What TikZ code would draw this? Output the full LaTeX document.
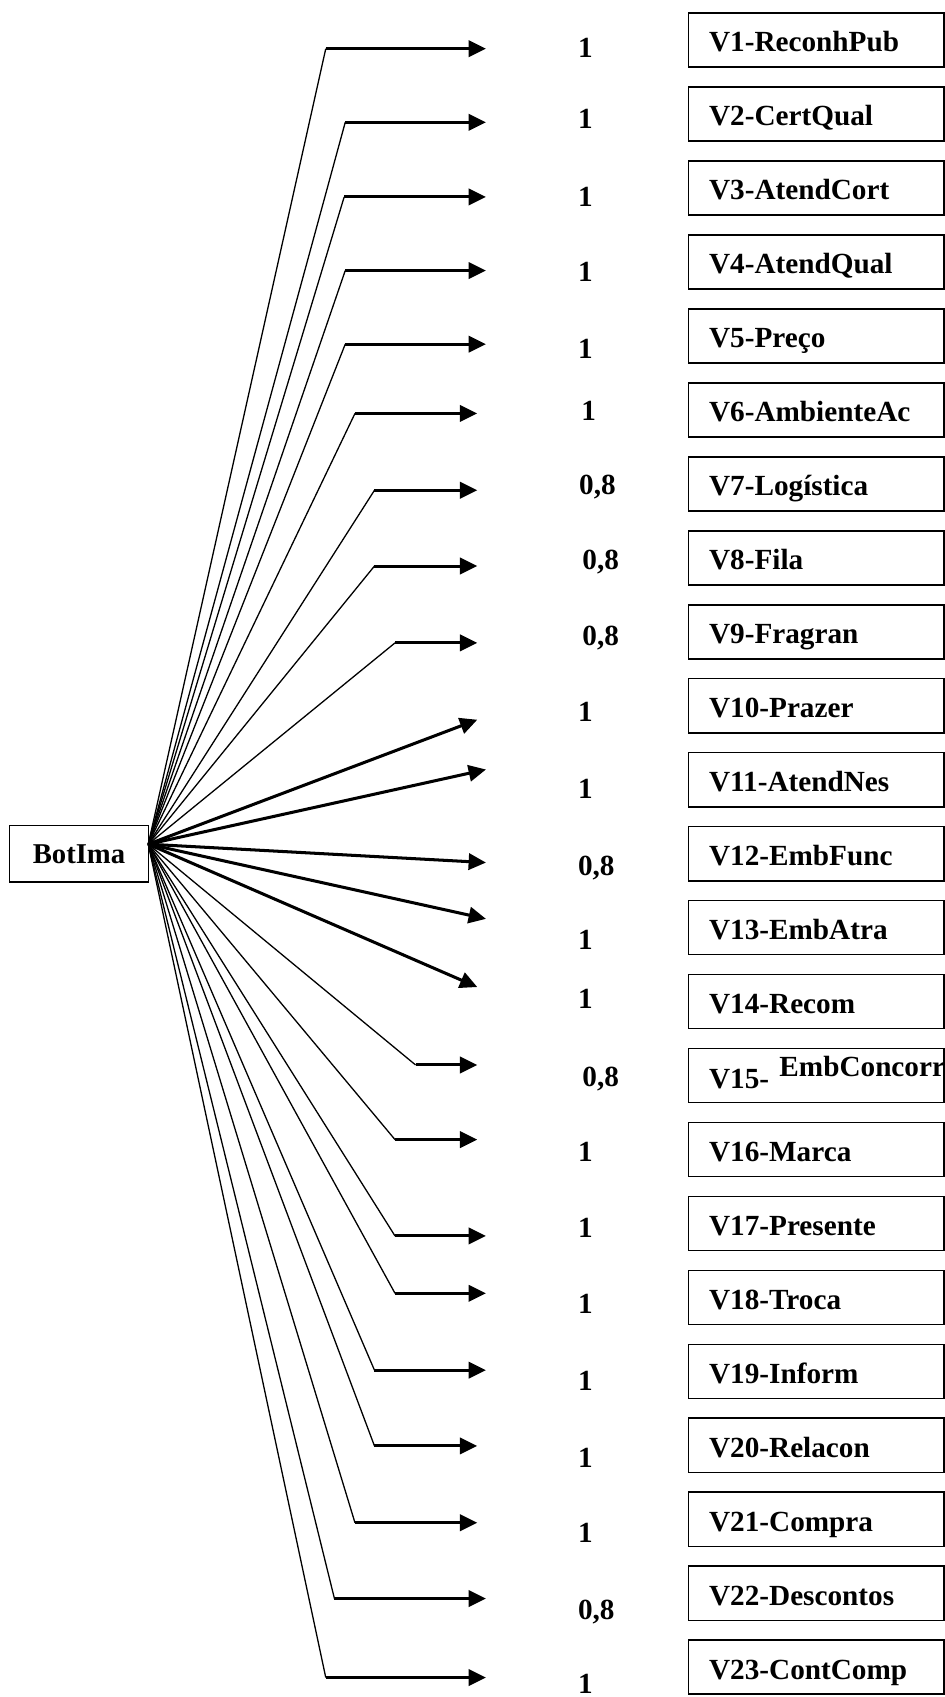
\documentclass[tikz,border=0pt]{standalone}
\usepackage{fontspec}
\setmainfont{Liberation Serif}
\usetikzlibrary{arrows.meta}
\begin{document}
\begin{tikzpicture}[x=1pt,y=-1pt,
  lab/.style={font=\fontsize{27}{30}\selectfont\bfseries, inner sep=0pt},
  varbox/.style={draw, line width=1.5pt, minimum width=236pt, minimum height=50pt, inner sep=0pt},
  rootbox/.style={draw, line width=1.3pt, minimum width=128pt, minimum height=52pt, inner sep=0pt,
    font=\fontsize{26.5}{30}\selectfont\bfseries},
  spoke/.style={line width=1.2pt},
  feed/.style={line width=2.8pt, -{Triangle[length=16pt,width=15pt]}}]

\useasboundingbox (0,0) rectangle (873,1568);

% root construct and the common origin of all paths
\node[rootbox] (root) at (73,789) {BotIma};
\coordinate (hub) at (137,780);

% observed variables
\foreach \i/\t in {1/V1-ReconhPub, 2/V2-CertQual, 3/V3-AtendCort, 4/V4-AtendQual,
  5/V5-Preço, 6/V6-AmbienteAc, 7/V7-Logística, 8/V8-Fila, 9/V9-Fragran,
  10/V10-Prazer, 11/V11-AtendNes, 12/V12-EmbFunc, 13/V13-EmbAtra, 14/V14-Recom,
  16/V16-Marca, 17/V17-Presente, 18/V18-Troca, 19/V19-Inform, 20/V20-Relacon,
  21/V21-Compra, 22/V22-Descontos, 23/V23-ContComp}{
  \pgfmathsetmacro{\cy}{37+68.34*(\i-1)}
  \node[varbox] (v\i) at (754,\cy) {};
  \node[lab, anchor=base west] (n\i) at (655,\cy+11) {\t};
}
\pgfmathsetmacro{\cy}{37+68.34*14}
\node[varbox] (v15) at (754,\cy) {};
\node[lab, anchor=base west] (n15) at (655,\cy+12) {V15-};
\node[lab, anchor=base west] (n15b) at (720,\cy+1) {EmbConcorr};

% loadings
\foreach \i/\x/\y/\t in {1/541/44/1, 2/541/109/1, 3/541/181/1, 4/541/251/1,
  5/541/322/1, 6/544/379/1, 7/552/447/0{,}8, 8/555/517/0{,}8, 9/555/587/0{,}8,
  10/541/657/1, 11/541/728/1, 12/551/799/0{,}8, 13/541/868/1, 14/541/922/1,
  15/555/994/0{,}8, 16/541/1064/1, 17/541/1134/1, 18/541/1204/1, 19/541/1275/1,
  20/541/1346/1, 21/541/1416/1, 22/551/1487/0{,}8, 23/541/1555/1}{
  \node[lab, anchor=base] (w\i) at (\x,\y+9.5) {\t};
}

% bent paths: spoke to a corner, then a horizontal arrow
\foreach \i/\cx/\cy/\tx in {1/301/45/449, 2/319/113/449, 3/318/182/449,
  4/319/250/449, 5/319/318/449, 6/328/382/441, 7/346/453/441, 8/346/523/441,
  9/365/594/441, 15/384/984/441, 16/365/1053/441, 17/365/1142/449,
  18/365/1195/449, 19/346/1266/449, 20/346/1336/441, 21/328/1407/441,
  22/309/1477/449, 23/301/1550/449}{
  \coordinate (c\i) at (\cx,\cy);
  \coordinate (t\i) at (\tx,\cy);
  \draw[spoke] (hub) -- (c\i);
  \draw[feed] (c\i) -- (t\i);
}

% straight paths
\foreach \i/\tx/\ty in {10/441/665, 11/449/711, 12/449/797, 13/449/849, 14/441/912}{
  \coordinate (t\i) at (\tx,\ty);
  \draw[feed] (hub) -- (t\i);
}
\end{tikzpicture}
\end{document}
